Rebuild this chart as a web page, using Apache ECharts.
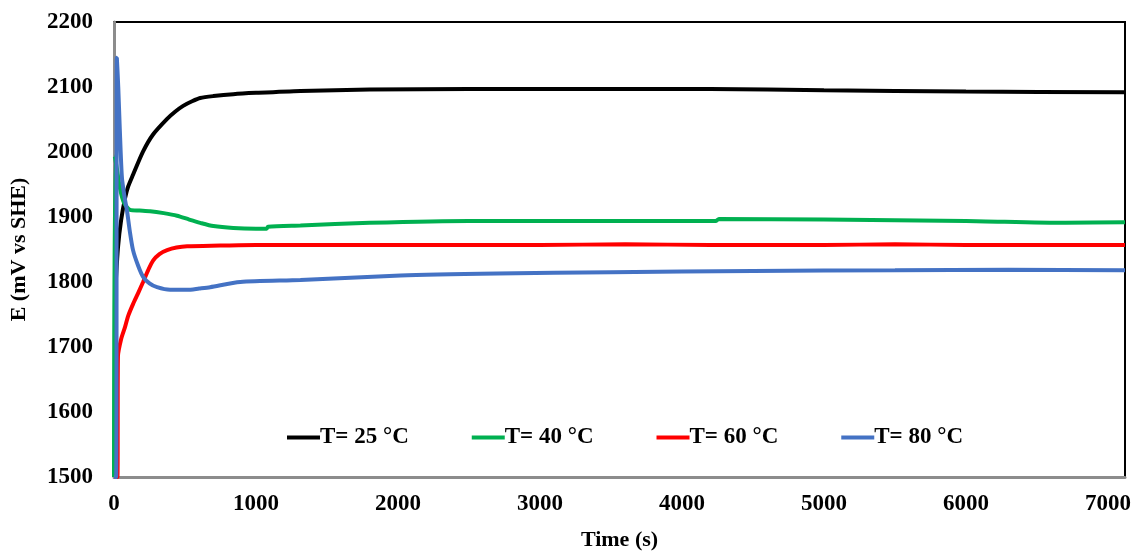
<!DOCTYPE html>
<html>
<head>
<meta charset="utf-8">
<script src="https://cdn.jsdelivr.net/npm/echarts@6/dist/echarts.min.js"></script>
<style>
  html, body { margin: 0; padding: 0; background: #fff; }
  #chart { width: 1135px; height: 556px; }
</style>
</head>
<body>
<div id="chart"></div>
<script>
// Open-circuit potential vs time at four temperatures
const seriesNames = ['T= 25 °C', 'T= 40 °C', 'T= 60 °C', 'T= 80 °C'];
const seriesColors = ['#000000', '#00b050', '#ff0000', '#4472c4'];

const time25 = [10, 28, 50, 78, 100, 134, 205, 275, 374, 430, 487, 550, 607, 700, 840, 1000, 1313, 1800, 2500, 3500, 4200, 5000, 6000, 7120];
const e25    = [1790, 1853, 1895, 1929, 1947, 1965, 2001, 2027, 2051, 2062, 2071, 2078, 2083, 2086, 2089, 2091, 2094, 2096, 2097, 2097, 2097, 2095, 2093, 2092];

const time40 = [0, 4, 6, 20, 42, 70, 113, 180, 254, 350, 444, 530, 607, 700, 840, 1000, 1075, 1085, 1313, 1800, 2500, 3500, 4240, 4260, 5000, 6000, 6700, 7120];
const e40    = [1500, 1500, 1993, 1975, 1944, 1922, 1911, 1910, 1909, 1906, 1902, 1896, 1891, 1886, 1883, 1882, 1882, 1885, 1887, 1891, 1894, 1894, 1894, 1897, 1896, 1894, 1891, 1892];

const time60 = [0, 24, 28, 50, 78, 100, 134, 170, 205, 240, 275, 320, 374, 440, 515, 748, 1000, 2000, 3000, 3600, 4200, 5000, 5500, 6000, 7120];
const e60    = [1500, 1500, 1686, 1712, 1731, 1748, 1766, 1783, 1800, 1818, 1833, 1843, 1849, 1853, 1855, 1856, 1857, 1857, 1857, 1858, 1857, 1857, 1858, 1857, 1857];

const time80 = [0, 15, 20, 30, 40, 56, 75, 92, 110, 134, 170, 205, 250, 303, 395, 515, 600, 677, 889, 1313, 2018, 2700, 3500, 4500, 5500, 6300, 7120];
const e80    = [1500, 1500, 2145, 2100, 2040, 1960, 1930, 1909, 1880, 1849, 1825, 1808, 1798, 1792, 1788, 1788, 1790, 1792, 1800, 1803, 1810, 1813, 1815, 1817, 1818, 1819, 1818];

const allTimes = [time25, time40, time60, time80];
const allValues = [e25, e40, e60, e80];

const font = '"Liberation Serif", "Times New Roman", serif';

const chart = echarts.init(document.getElementById('chart'));

const series = seriesNames.map((name, i) => ({
  name: name,
  type: 'line',
  data: allTimes[i].map((t, k) => [t, allValues[i][k]]),
  symbol: 'none',
  smooth: 0.25,
  lineStyle: { color: seriesColors[i], width: 4 },
  itemStyle: { color: seriesColors[i] },
  z: 2 + i
}));

chart.setOption({
  backgroundColor: '#ffffff',
  animation: false,
  grid: {
    left: 114, right: 10, top: 22, bottom: 74,
    show: true, borderColor: '#000000', borderWidth: 2
  },
  legend: {
    left: 282, top: 421,
    icon: 'rect',
    itemWidth: 33, itemHeight: 4, itemGap: 63,
    textStyle: { fontFamily: font, fontWeight: 'bold', fontSize: 23, color: '#000', padding: [0, 0, 0, -5] },
    data: seriesNames
  },
  xAxis: {
    type: 'value', min: 0, max: 7120, interval: 1000,
    name: 'Time (s)', nameLocation: 'middle', nameGap: 52,
    nameTextStyle: { fontFamily: font, fontWeight: 'bold', fontSize: 22, color: '#000' },
    axisLine: { show: true, lineStyle: { color: '#8c8c8c', width: 3 } },
    axisTick: { show: false },
    splitLine: { show: false },
    axisLabel: {
      fontFamily: font, fontWeight: 'bold', fontSize: 23, color: '#000', margin: 16,
      showMaxLabel: false, formatter: v => String(v)
    }
  },
  yAxis: {
    type: 'value', min: 1500, max: 2200, interval: 100,
    name: 'E (mV vs SHE)', nameLocation: 'middle', nameGap: 84, nameRotate: 90,
    nameTextStyle: { fontFamily: font, fontWeight: 'bold', fontSize: 22, color: '#000' },
    axisLine: { show: true, lineStyle: { color: '#8c8c8c', width: 3 } },
    axisTick: { show: false },
    splitLine: { show: false },
    axisLabel: {
      fontFamily: font, fontWeight: 'bold', fontSize: 23, color: '#000', margin: 21,
      formatter: v => String(v)
    }
  },
  series: series
});
</script>
</body>
</html>
